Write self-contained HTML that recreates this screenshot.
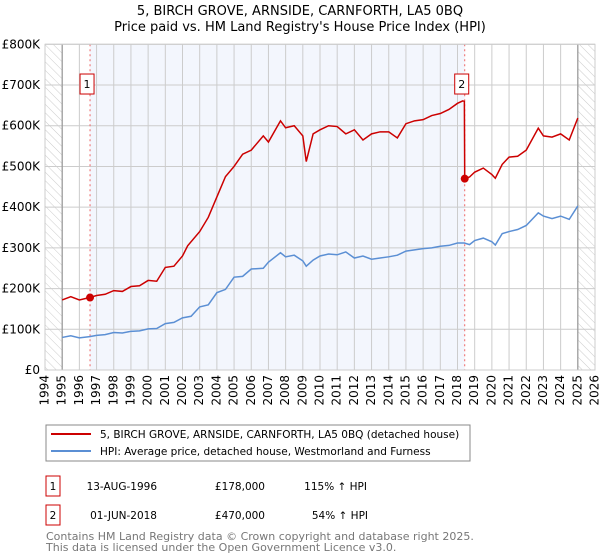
<!DOCTYPE html>
<html><head><meta charset="utf-8"><style>
body{margin:0;background:#fff;font-family:"Liberation Sans","DejaVu Sans",sans-serif;}
#wrap{position:relative;width:600px;height:560px;overflow:hidden}
</style></head><body>
<div id="wrap">
<svg id="chart" width="600" height="560" xmlns="http://www.w3.org/2000/svg" font-family="DejaVu Sans, Liberation Sans, sans-serif">
<defs><pattern id="hatch" width="6" height="6" patternUnits="userSpaceOnUse" patternTransform="rotate(-45)"><line x1="0" y1="0" x2="0" y2="6" stroke="#ccc" stroke-width="1"/></pattern></defs>
<text x="300" y="15" text-anchor="middle" font-size="13">5, BIRCH GROVE, ARNSIDE, CARNFORTH, LA5 0BQ</text>
<text x="300" y="31" text-anchor="middle" font-size="13">Price paid vs. HM Land Registry's House Price Index (HPI)</text>
<g id="plot"></g>
<g>
<rect x="46" y="425" width="424" height="36" fill="#fff" stroke="#888"/>
<line x1="51" y1="434" x2="91" y2="434" stroke="#cc0000" stroke-width="2"/>
<text x="100" y="438" font-size="10.5">5, BIRCH GROVE, ARNSIDE, CARNFORTH, LA5 0BQ (detached house)</text>
<line x1="51" y1="451" x2="91" y2="451" stroke="#5b8fd4" stroke-width="2"/>
<text x="100" y="455" font-size="10.5">HPI: Average price, detached house, Westmorland and Furness</text>
</g>
<g font-size="10.5">
<rect x="46" y="476" width="14" height="20" fill="#fff" stroke="#cc0000"/>
<text x="53" y="487" text-anchor="middle" dominant-baseline="middle">1</text>
<text x="157" y="487" text-anchor="end" dominant-baseline="middle">13-AUG-1996</text>
<text x="265" y="487" text-anchor="end" dominant-baseline="middle">£178,000</text>
<text x="367" y="487" text-anchor="end" dominant-baseline="middle">115% ↑ HPI</text>
<rect x="46" y="505" width="14" height="20" fill="#fff" stroke="#cc0000"/>
<text x="53" y="516" text-anchor="middle" dominant-baseline="middle">2</text>
<text x="157" y="516" text-anchor="end" dominant-baseline="middle">01-JUN-2018</text>
<text x="265" y="516" text-anchor="end" dominant-baseline="middle">£470,000</text>
<text x="368" y="516" text-anchor="end" dominant-baseline="middle">54% ↑ HPI</text>
</g>
<text x="46" y="540" font-size="11" fill="#777">Contains HM Land Registry data © Crown copyright and database right 2025.</text>
<text x="46" y="551" font-size="11" fill="#777">This data is licensed under the Open Government Licence v3.0.</text>
</svg>
</div>
<script>
const hpiYears=[1995,1995.5,1996,1996.6,1997,1997.5,1998,1998.5,1999,1999.5,2000,2000.5,2001,2001.5,2002,2002.5,2003,2003.5,2004,2004.5,2005,2005.5,2006,2006.7,2007,2007.7,2008,2008.5,2009,2009.2,2009.6,2010,2010.5,2011,2011.5,2012,2012.5,2013,2013.5,2014,2014.5,2015,2015.5,2016,2016.5,2017,2017.5,2018,2018.4,2018.7,2019,2019.5,2020,2020.2,2020.6,2021,2021.5,2022,2022.7,2023,2023.5,2024,2024.5,2025];
const hpiValues=[80,84,79,82,85,87,92,91,95,96,101,102,114,117,128,132,155,160,190,198,228,230,248,250,265,288,278,282,268,255,270,280,285,283,290,275,280,272,275,278,282,292,295,298,300,304,306,312,312,308,318,324,315,307,335,340,345,355,386,378,372,378,370,403];
const redYears=[1995,1995.5,1996,1996.6,1997,1997.5,1998,1998.5,1999,1999.5,2000,2000.5,2001,2001.5,2002,2002.3,2003,2003.5,2004,2004.5,2005,2005.5,2006,2006.7,2007,2007.7,2008,2008.5,2009,2009.2,2009.6,2010,2010.5,2011,2011.5,2012,2012.5,2013,2013.5,2014,2014.5,2015,2015.5,2016,2016.5,2017,2017.5,2018,2018.3,2018.4,2018.42,2018.7,2019,2019.5,2020,2020.2,2020.6,2021,2021.5,2022,2022.7,2023,2023.5,2024,2024.5,2025];
const redValues=[172,180,172,178,183,186,195,193,205,207,220,218,252,255,280,305,340,375,425,475,500,530,540,575,560,612,595,600,575,512,580,590,600,598,580,590,565,580,585,585,570,605,612,615,625,630,640,655,661,660,470,474,486,496,480,471,505,523,525,540,594,575,572,580,565,619];
const sales=[{x:1996.62,v:178,l:"1"},{x:2018.42,v:470,l:"2"}];
const yTicks=[0,100,200,300,400,500,600,700,800];
const yTickLabels=["£0","£100K","£200K","£300K","£400K","£500K","£600K","£700K","£800K"];
const xTicks=[1994,1995,1996,1997,1998,1999,2000,2001,2002,2003,2004,2005,2006,2007,2008,2009,2010,2011,2012,2013,2014,2015,2016,2017,2018,2019,2020,2021,2022,2023,2024,2025,2026];

const L=45,R=595,T=44.3,B=370,x0=1994,x1=2026;
const X=y=>L+(y-x0)/(x1-x0)*(R-L);
const Y=v=>B-v/800*(B-T);
const NS="http://www.w3.org/2000/svg";
const g=document.getElementById('plot');
function mk(t,a){const e=document.createElementNS(NS,t);for(const k in a)e.setAttribute(k,a[k]);g.appendChild(e);return e;}
let e;
e=mk('rect',{x:L,y:T,width:R-L,height:B-T,fill:'#fff'});


e=mk('rect',{x:X(sales[0].x),y:T,width:X(sales[1].x)-X(sales[0].x),height:B-T,fill:'#f3f6fd'});


e=mk('rect',{x:L,y:T,width:X(1995)-L,height:B-T,fill:'url(#hatch)'});


e=mk('rect',{x:X(2025),y:T,width:R-X(2025),height:B-T,fill:'url(#hatch)'});


xTicks.forEach(t=>{
  e=mk('line',{x1:X(t),y1:T,x2:X(t),y2:B,stroke:'#ccc','stroke-width':1});
  
  
  e=mk('text',{x:0,y:0,'font-size':12,'text-anchor':'end','dominant-baseline':'middle',transform:`translate(${X(t)},375) rotate(-90)`});
  e.textContent=t;
  
  
});
yTicks.forEach((t,i)=>{
  e=mk('line',{x1:L,y1:Y(t),x2:R,y2:Y(t),stroke:'#ccc','stroke-width':1});
  
  
  e=mk('text',{x:40,y:Y(t)+4,'font-size':12,'text-anchor':'end'});
  e.textContent=yTickLabels[i];
  
  
});
[1995,2025].forEach(t=>{
  e=mk('line',{x1:X(t),y1:T,x2:X(t),y2:B,stroke:'#999','stroke-width':1.2});
  
  
});
sales.forEach(s=>{
  e=mk('line',{x1:X(s.x),y1:T,x2:X(s.x),y2:B,stroke:'#e66','stroke-width':1,'stroke-dasharray':'2,3'});
  
  
});
e=mk('polyline',{points:hpiYears.map((y,i)=>X(y)+','+Y(hpiValues[i])).join(' '),fill:'none',stroke:'#5b8fd4','stroke-width':1.5});


e=mk('polyline',{points:redYears.map((y,i)=>X(y)+','+Y(redValues[i])).join(' '),fill:'none',stroke:'#cc0000','stroke-width':1.5});


sales.forEach(s=>{
  e=mk('circle',{cx:X(s.x),cy:Y(s.v),r:4,fill:'#cc0000'});
  
  
  e=mk('rect',{x:X(s.x)-10,y:Y(700)-11,width:14,height:20,fill:'#fff',stroke:'#cc0000'});
  
  
  e=mk('text',{x:X(s.x)-3,y:Y(700)+3,'font-size':11,'text-anchor':'middle'});
  e.textContent=s.l;
  
  
});
e=mk('rect',{x:L,y:T,width:R-L,height:B-T,fill:'none',stroke:'#ccc'});


</script>
</body></html>
